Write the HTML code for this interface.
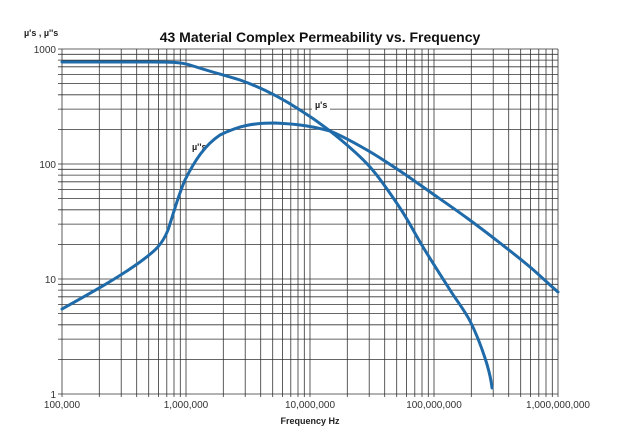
<!DOCTYPE html>
<html><head><style>body{margin:0;background:#fff}svg{display:block}</style></head><body>
<svg width="640" height="444" xmlns="http://www.w3.org/2000/svg" font-family="Liberation Sans, sans-serif">
<rect width="640" height="444" fill="#fff"/>
<g stroke="#333" stroke-width="0.8">
<line x1="62.0" y1="49" x2="62.0" y2="397"/><line x1="99.3" y1="49" x2="99.3" y2="397"/><line x1="121.2" y1="49" x2="121.2" y2="397"/><line x1="136.7" y1="49" x2="136.7" y2="397"/><line x1="148.7" y1="49" x2="148.7" y2="397"/><line x1="158.5" y1="49" x2="158.5" y2="397"/><line x1="166.8" y1="49" x2="166.8" y2="397"/><line x1="174.0" y1="49" x2="174.0" y2="397"/><line x1="180.3" y1="49" x2="180.3" y2="397"/>
<line x1="186.0" y1="49" x2="186.0" y2="397"/><line x1="223.3" y1="49" x2="223.3" y2="397"/><line x1="245.2" y1="49" x2="245.2" y2="397"/><line x1="260.7" y1="49" x2="260.7" y2="397"/><line x1="272.7" y1="49" x2="272.7" y2="397"/><line x1="282.5" y1="49" x2="282.5" y2="397"/><line x1="290.8" y1="49" x2="290.8" y2="397"/><line x1="298.0" y1="49" x2="298.0" y2="397"/><line x1="304.3" y1="49" x2="304.3" y2="397"/>
<line x1="310.0" y1="49" x2="310.0" y2="397"/><line x1="347.3" y1="49" x2="347.3" y2="397"/><line x1="369.2" y1="49" x2="369.2" y2="397"/><line x1="384.7" y1="49" x2="384.7" y2="397"/><line x1="396.7" y1="49" x2="396.7" y2="397"/><line x1="406.5" y1="49" x2="406.5" y2="397"/><line x1="414.8" y1="49" x2="414.8" y2="397"/><line x1="422.0" y1="49" x2="422.0" y2="397"/><line x1="428.3" y1="49" x2="428.3" y2="397"/>
<line x1="434.0" y1="49" x2="434.0" y2="397"/><line x1="471.3" y1="49" x2="471.3" y2="397"/><line x1="493.2" y1="49" x2="493.2" y2="397"/><line x1="508.7" y1="49" x2="508.7" y2="397"/><line x1="520.7" y1="49" x2="520.7" y2="397"/><line x1="530.5" y1="49" x2="530.5" y2="397"/><line x1="538.8" y1="49" x2="538.8" y2="397"/><line x1="546.0" y1="49" x2="546.0" y2="397"/><line x1="552.3" y1="49" x2="552.3" y2="397"/>
<line x1="558.0" y1="49" x2="558.0" y2="397"/>
<line x1="58" y1="394.0" x2="558" y2="394.0"/><line x1="58" y1="359.4" x2="558" y2="359.4"/><line x1="58" y1="339.1" x2="558" y2="339.1"/><line x1="58" y1="324.8" x2="558" y2="324.8"/><line x1="58" y1="313.6" x2="558" y2="313.6"/><line x1="58" y1="304.5" x2="558" y2="304.5"/><line x1="58" y1="296.8" x2="558" y2="296.8"/><line x1="58" y1="290.1" x2="558" y2="290.1"/><line x1="58" y1="284.3" x2="558" y2="284.3"/>
<line x1="58" y1="279.0" x2="558" y2="279.0"/><line x1="58" y1="244.4" x2="558" y2="244.4"/><line x1="58" y1="224.1" x2="558" y2="224.1"/><line x1="58" y1="209.8" x2="558" y2="209.8"/><line x1="58" y1="198.6" x2="558" y2="198.6"/><line x1="58" y1="189.5" x2="558" y2="189.5"/><line x1="58" y1="181.8" x2="558" y2="181.8"/><line x1="58" y1="175.1" x2="558" y2="175.1"/><line x1="58" y1="169.3" x2="558" y2="169.3"/>
<line x1="58" y1="164.0" x2="558" y2="164.0"/><line x1="58" y1="129.4" x2="558" y2="129.4"/><line x1="58" y1="109.1" x2="558" y2="109.1"/><line x1="58" y1="94.8" x2="558" y2="94.8"/><line x1="58" y1="83.6" x2="558" y2="83.6"/><line x1="58" y1="74.5" x2="558" y2="74.5"/><line x1="58" y1="66.8" x2="558" y2="66.8"/><line x1="58" y1="60.1" x2="558" y2="60.1"/><line x1="58" y1="54.3" x2="558" y2="54.3"/>
<line x1="58" y1="49.0" x2="558" y2="49.0"/>
</g>
<text x="320" y="42" text-anchor="middle" font-size="14" font-weight="bold" fill="#111">43 Material Complex Permeability vs. Frequency</text>
<text x="24" y="36" font-size="9" font-weight="bold" fill="#222">µ's , µ''s</text>
<g font-size="10" fill="#333" text-anchor="end">
<text x="56" y="53">1000</text><text x="56" y="168">100</text><text x="56" y="283">10</text><text x="56" y="398">1</text>
</g>
<g font-size="10" fill="#333" text-anchor="middle">
<text x="62" y="408">100,000</text><text x="186" y="408">1,000,000</text><text x="310" y="408">10,000,000</text><text x="434" y="408">100,000,000</text><text x="558" y="408">1,000,000,000</text>
</g>
<text x="310" y="424" text-anchor="middle" font-size="9" font-weight="bold" fill="#222">Frequency Hz</text>
<rect x="312" y="99" width="18" height="11" fill="#fff"/>
<text x="315" y="108" font-size="9" font-weight="bold" fill="#222">µ's</text>
<rect x="190" y="141" width="20" height="11" fill="#fff"/>
<text x="192" y="150" font-size="9" font-weight="bold" fill="#222">µ''s</text>
<g fill="none" stroke="#1f6aa8" stroke-width="3" stroke-linecap="round" stroke-linejoin="round">
<path d="M62,62 L150,62 C170,62 180,62 190,65 C205,70 220,74 240,80 C260,87 280,97 300,110 C312.5,117.8 323.3,125.5 335,135 C346.7,144.5 359.2,154.8 370,167 C380.8,179.2 391.2,194.7 400,208 C408.8,221.3 414.7,233.3 423,247 C431.3,260.7 442.2,277.7 450,290 C457.8,302.3 464.2,309.7 470,321 C475.8,332.3 481.3,346.8 485,358 C488.7,369.2 491,379 492,388"/>
<path d="M62,309 C85,296 115,280 140,262 C155,251 162,245 168,230 C174,212 178,196 185,180 C195,160 205,145 220,135 C240,125 255,123 275,123 C300,124 315,127 330,131 C341.2,135.3 355.3,143.3 367,150 C378.7,156.7 389,163.7 400,171 C411,178.3 421.8,186.2 433,194 C444.2,201.8 455.8,209.8 467,218 C478.2,226.2 489.5,234.8 500,243 C510.5,251.2 520.3,258.8 530,267 C539.7,275.2 553,288 558,292"/>
</g>
</svg>
</body></html>
